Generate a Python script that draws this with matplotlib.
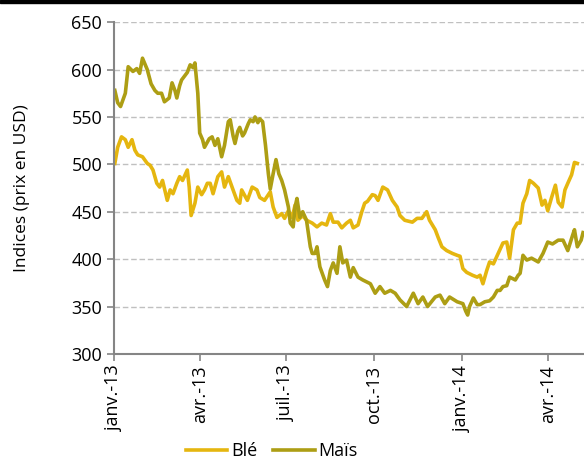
import pandas as pd
import matplotlib.pyplot as plt
from matplotlib.patches import Rectangle

# === Data: day offset from 2013-01-01, index value
mais_jours = [1, 4, 7, 12, 15, 20, 24, 27, 30, 35, 39, 43, 46, 50, 53, 58, 61, 64, 66, 69,
              71, 77, 80, 83, 85, 88, 90, 93, 95, 100, 103, 106, 109, 113, 116, 120, 122, 125,
              127, 130, 132, 135, 137, 141, 143, 146, 148, 151, 153, 156, 159, 162, 164, 167,
              170, 173, 176, 179, 183, 185, 188, 190, 192, 195, 198, 202, 206, 208, 211, 213,
              216, 221, 224, 227, 230, 234, 237, 240, 244, 248, 251, 256, 261, 269, 274, 279,
              284, 290, 295, 300, 307, 314, 319, 324, 329, 337, 342, 347, 352, 360, 366, 369,
              371, 373, 377, 381, 384, 389, 394, 398, 402, 405, 408, 412, 415, 421, 424, 426,
              429, 433, 438, 445, 450, 455, 460, 466, 471, 476, 481, 483, 486, 490, 492]
mais_vals = [578, 565, 561, 575, 603, 598, 601, 596, 612, 600, 585, 578, 575, 575, 566, 570,
             586, 578, 570, 583, 589, 597, 605, 602, 607, 575, 533, 526, 518, 527, 529, 520,
             527, 508, 520, 545, 547, 530, 522, 535, 539, 530, 533, 543, 547, 545, 550, 544,
             548, 545, 520, 490, 474, 490, 505, 490, 483, 473, 455, 438, 434, 455, 464, 444,
             450, 441, 413, 406, 406, 413, 392, 378, 371, 388, 396, 385, 413, 396, 399, 381,
             391, 381, 378, 374, 364, 371, 364, 367, 364, 357, 350, 364, 353, 360, 350, 360,
             362, 353, 360, 355, 353, 345, 341, 350, 359, 352, 352, 355, 356, 360, 367, 367,
             371, 372, 381, 378, 383, 385, 404, 399, 401, 397, 406, 418, 416, 420, 420, 409,
             425, 431, 413, 420, 428]

ble_jours = [1, 4, 8, 12, 15, 19, 22, 25, 30, 35, 38, 41, 45, 48, 51, 56, 59, 62, 66, 69,
             72, 77, 79, 81, 85, 88, 92, 95, 98, 101, 104, 109, 113, 116, 120, 125, 129, 132,
             134, 140, 145, 150, 153, 158, 164, 167, 171, 176, 179, 183, 187, 190, 193, 198,
             202, 208, 213, 218, 223, 227, 230, 235, 239, 244, 248, 251, 256, 260, 263, 266,
             271, 274, 277, 282, 287, 292, 297, 300, 305, 313, 318, 323, 328, 331, 337, 340,
             344, 349, 355, 360, 363, 366, 370, 376, 381, 384, 387, 391, 394, 398, 403, 408,
             412, 415, 419, 423, 426, 429, 433, 436, 440, 445, 449, 452, 455, 459, 463, 466,
             470, 473, 476, 480, 483, 486]
ble_vals = [501, 518, 529, 526, 518, 526, 515, 510, 508, 501, 499, 494, 480, 476, 483, 462,
            473, 469, 480, 487, 483, 494, 476, 446, 459, 476, 468, 473, 480, 480, 469, 487,
            492, 476, 487, 473, 462, 459, 473, 462, 476, 473, 465, 462, 471, 455, 444, 448,
            443, 451, 444, 457, 441, 446, 441, 438, 434, 438, 436, 448, 439, 439, 433, 438,
            441, 433, 436, 450, 459, 461, 468, 467, 462, 476, 473, 462, 455, 446, 441, 439,
            443, 443, 450, 441, 431, 423, 413, 409, 406, 404, 403, 390, 386, 383, 381, 383,
            374, 388, 397, 395, 406, 417, 418, 401, 431, 438, 438, 459, 469, 483, 480, 475,
            457, 462, 451, 465, 478, 460, 455, 473, 480, 489, 502, 501]

start = pd.Timestamp('2013-01-01')
mais_dates = start + pd.to_timedelta(mais_jours, unit='D')
ble_dates = start + pd.to_timedelta(ble_jours, unit='D')

tick_dates = pd.to_datetime(['2013-01-01', '2013-04-01', '2013-07-01', '2013-10-01',
                             '2014-01-01', '2014-04-01'])
tick_labels = ['janv.-13', 'avr.-13', 'juil.-13', 'oct.-13', 'janv.-14', 'avr.-14']

plt.rcParams['font.family'] = ['Open Sans', 'DejaVu Sans']

# === Plotting
fig = plt.figure(figsize=(5.84, 4.62), dpi=100)
ax = fig.add_axes([0.195, 0.234, 0.805, 0.718])

ax.plot(ble_dates, ble_vals, color='#E5B60F', linewidth=2.6, label='Blé')
ax.plot(mais_dates, mais_vals, color='#AD9E14', linewidth=2.6, label='Maïs')

ax.set_ylim(300, 650)
ax.set_yticks(range(300, 651, 50))
ax.set_xlim(start, start + pd.Timedelta(days=493))
ax.set_xticks(tick_dates)
ax.set_xticklabels(tick_labels, rotation=90)

ax.grid(axis='y', color='#c0c0c0', linestyle=(0, (4, 2)), linewidth=1)
ax.set_axisbelow(True)
for side in ['top', 'right']:
    ax.spines[side].set_visible(False)
for side in ['left', 'bottom']:
    ax.spines[side].set_color('#858585')
    ax.spines[side].set_linewidth(1.5)
ax.tick_params(axis='both', colors='#858585', labelcolor='black', labelsize=13,
               length=5, width=1.2, direction='out')
ax.set_ylabel('Indices (prix en USD)', fontsize=12.5, labelpad=30)

ax.legend(loc='center', bbox_to_anchor=(0.336, -0.293), ncol=2, frameon=False,
          fontsize=13, handlelength=2.3, handletextpad=0.2, columnspacing=0.9,
          borderpad=0.1)

# black bar along the top edge
fig.patches.append(Rectangle((0, 1 - 3 / 462), 1, 3 / 462, transform=fig.transFigure,
                             color='black', zorder=10))

fig.savefig('out.png', dpi=100)
plt.close(fig)
